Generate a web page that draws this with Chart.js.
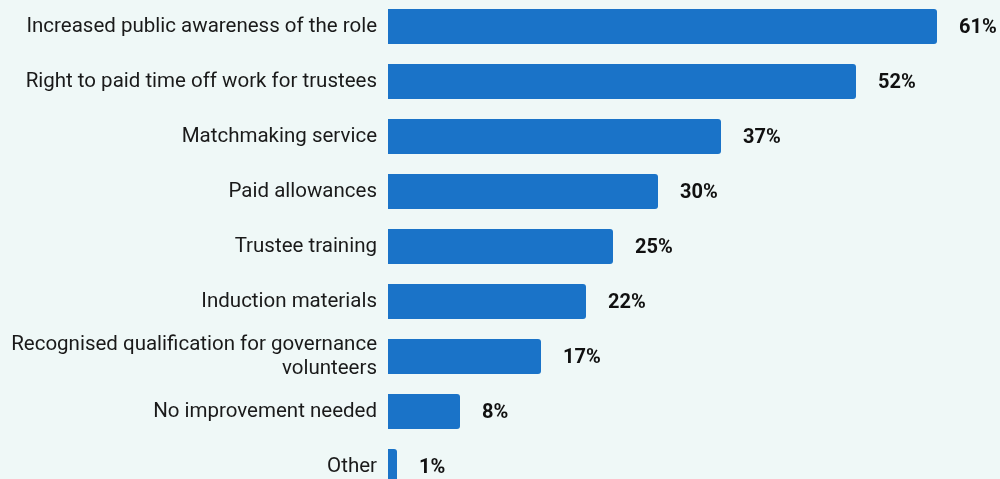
<!DOCTYPE html>
<html>
<head>
<meta charset="utf-8">
<script src="https://cdn.jsdelivr.net/npm/chart.js@4"></script>
<style>
  html, body { margin: 0; padding: 0; background: #eff8f7; overflow: hidden; }
  #wrap { position: relative; width: 1000px; height: 495px; margin-top: -1px; }
</style>
</head>
<body>
<div id="wrap"><canvas id="improvementChart"></canvas></div>
<script>
const categories = [
    "Increased public awareness of the role",
    "Right to paid time off work for trustees",
    "Matchmaking service",
    "Paid allowances",
    "Trustee training",
    "Induction materials",
    ["Recognised qualification for governance", "volunteers"],
    "No improvement needed",
    "Other"
];
const percentages = [61, 52, 37, 30, 25, 22, 17, 8, 1];

// writes "NN%" just past the end of each bar
const valueLabels = {
    id: "valueLabels",
    afterDatasetsDraw(chart) {
        const ctx = chart.ctx;
        const meta = chart.getDatasetMeta(0);
        ctx.save();
        ctx.font = "bold 20px Roboto";
        ctx.fillStyle = "#111111";
        ctx.textAlign = "left";
        ctx.textBaseline = "middle";
        meta.data.forEach((bar, i) => {
            ctx.fillText(percentages[i] + "%", bar.x + 22, bar.y + 1);
        });
        ctx.restore();
    }
};

const ctx = document.getElementById("improvementChart").getContext("2d");
new Chart(ctx, {
    type: "bar",
    data: {
        labels: categories,
        datasets: [{
            data: percentages,
            backgroundColor: "#1a73c8",
            borderRadius: 3,
            borderSkipped: "start",
            barPercentage: 0.64,
            categoryPercentage: 1
        }]
    },
    options: {
        indexAxis: "y",
        responsive: true,
        maintainAspectRatio: false,
        animation: false,
        layout: { padding: 0 },
        plugins: {
            legend: { display: false },
            tooltip: { enabled: false }
        },
        scales: {
            x: {
                display: false,
                min: 0,
                max: 68
            },
            y: {
                border: { display: false },
                grid: { display: false, drawTicks: false },
                ticks: {
                    padding: 11,
                    color: "#1a1a1a",
                    font: { family: "Roboto", size: 20.5, lineHeight: 1.17 },
                    autoSkip: false
                },
                afterFit(scale) {
                    scale.width = 388;
                    // let the bars use the full height
                    scale.paddingTop = 0;
                    scale.paddingBottom = 0;
                }
            }
        }
    },
    plugins: [valueLabels]
});
</script>
</body>
</html>
